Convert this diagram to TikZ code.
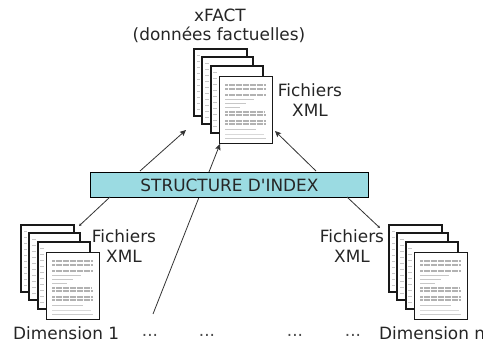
\documentclass[tikz,border=0pt]{standalone}
\usepackage{fontspec}
\newfontfamily\plainf{DejaVu Sans}
\setmainfont{DejaVu Sans}
\usetikzlibrary{arrows.meta}
\definecolor{barfill}{RGB}{155,219,226}
\tikzset{
  x=1pt,y=-1pt,
  sheet/.style={draw=black!90,fill=white,line width=1.1pt},
  lab/.style={font=\plainf\fontsize{16.9}{20}\selectfont,text=black!85,inner sep=0pt,align=center},
  conn/.style={draw=black!80,line width=0.8pt},
  tipconn/.style={conn,-{Stealth[length=6pt,width=5.5pt,inset=1pt]}},
  endconn/.style={conn,-{Stealth[length=2.5pt,width=2.5pt,inset=0pt]}},
  txtl/.style={draw=black!22,line width=0.8pt},
  txtd/.style={draw=black!30,line width=1.3pt,dash pattern=on 3pt off .5pt},
}
\newcommand{\docstack}[3]{%
  \begin{scope}[shift={(#2,#3)}]
    \draw[sheet] (0,0) rectangle (53,67);
    \foreach \yy in {6,12,...,60}{\draw[txtl,line width=.7pt] (3,\yy) -- (6,\yy);}
    \draw[sheet] (8,8) rectangle (59,75);
    \foreach \yy in {14,20,...,68}{\draw[txtl,line width=.7pt] (11,\yy) -- (15,\yy);}
    \draw[sheet] (17,17) rectangle (69,84);
    \foreach \yy in {23,29,...,77}{\draw[txtl,line width=.7pt] (19,\yy) -- (23,\yy);}
    \node[sheet,minimum width=53pt,minimum height=67pt,inner sep=0pt,anchor=north west] (#1) at (25,27) {};
    \draw[txtd] (31,36) -- (72,36);
    \draw[txtd] (31,40) -- (72,40);
    \draw[txtd] (31,46) -- (72,46);
    \draw[txtl] (31,50) -- (60,50);
    \draw[txtl] (31,54) -- (52,54);
    \draw[txtl] (31,58) -- (46,58);
    \draw[txtd] (31,63) -- (70,63);
    \draw[txtd] (31,66) -- (72,66);
    \draw[txtd] (31,72) -- (72,72);
    \draw[txtd] (31,75) -- (72,75);
    \draw[txtl] (31,80) -- (62,80);
    \draw[txtl,draw=black!15] (31,85) -- (70,85);
    \draw[txtl,draw=black!20] (31,89) -- (72,89);
  \end{scope}}
\begin{document}
\begin{tikzpicture}
\useasboundingbox (0,0) rectangle (483,345);
\fill[white] (0,0) rectangle (483,345);
\docstack{dtop}{194}{49}
\docstack{dleft}{21}{225}
\docstack{dright}{389}{225}
\coordinate (p1) at (153,314);
\coordinate (c1) at (220,144);
\draw[tipconn] (p1) -- (c1);
\node[draw=black,fill=barfill,line width=1pt,minimum width=278pt,minimum height=25pt,inner sep=0pt,anchor=north west,lab] (bar) at (90,172) {STRUCTURE D'INDEX};
\coordinate (a1) at (140,171);
\coordinate (a2) at (186,130);
\coordinate (b1) at (316,171);
\coordinate (b2) at (275,131);
\coordinate (l1) at (110,197);
\coordinate (l2) at (79,226);
\coordinate (r1) at (347,197);
\coordinate (r2) at (380,228);
\draw[tipconn] (a1) -- (a2);
\draw[tipconn] (b1) -- (b2);
\draw[endconn] (l1) -- (l2);
\draw[endconn] (r1) -- (r2);
\node[lab] (t1) at (220,15) {xFACT};
\node[lab] (t2) at (219,35) {(données factuelles)};
\node[lab] (f1) at (310,90) {Fichiers};
\node[lab] (f1b) at (310,110) {XML};
\node[lab] (f2) at (124,236) {Fichiers};
\node[lab] (f2b) at (124,256) {XML};
\node[lab] (f3) at (352,236) {Fichiers};
\node[lab] (f3b) at (352,256) {XML};
\node[lab,anchor=west] (d1) at (13,333) {Dimension 1};
\node[lab,anchor=west] (dn) at (379,333) {Dimension n};
\node[lab,anchor=base,text=black!70] (e1) at (150,336) {...};
\node[lab,anchor=base,text=black!70] (e2) at (207,336) {...};
\node[lab,anchor=base,text=black!70] (e3) at (295,336) {...};
\node[lab,anchor=base,text=black!70] (e4) at (353,336) {...};
\end{tikzpicture}
\end{document}
